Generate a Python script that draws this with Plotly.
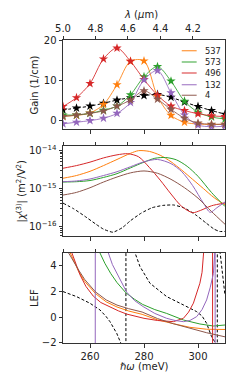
import plotly.graph_objects as go

# ---------------- data ----------------
series_labels = ["537", "573", "496", "132", "4"]
series_colors = ["#ff7f0e", "#2ca02c", "#d62728", "#9467bd", "#8c564b"]

# Gain panel (markers every 5 meV)
gain_energy = [250, 255, 260, 265, 270, 275, 280, 285, 290, 295, 300, 305, 310]
gain_537 = [1.1, 1.3, 1.9, 4.0, 8.9, 14.7, 14.8, 6.0, 1.3, -0.4, -0.85, -0.95, -0.9]
gain_573 = [1.4, 1.4, 1.8, 2.6, 3.6, 6.4, 10.9, 13.4, 9.8, 4.8, 2.1, 0.9, 0.4]
gain_496 = [3.5, 5.7, 9.2, 15.3, 18.0, 14.7, 10.2, 6.3, 3.6, 2.5, 1.7, 1.2, 1.0]
gain_132 = [-0.8, -0.4, 0.0, 0.6, 1.8, 4.5, 10.1, 12.4, 6.9, 1.4, -1.1, -1.5, -1.4]
gain_4 = [1.0, 1.4, 1.8, 2.4, 3.6, 5.1, 7.4, 5.3, 2.8, 0.6, -0.6, -0.9, -0.9]
gain_ref = [2.65, 3.1, 3.6, 4.3, 5.1, 5.7, 6.2, 6.5, 5.8, 4.6, 3.5, 2.5, 1.6]

# |chi(3)| panel (m^2/V^2)
chi_537_e = [250, 255, 260, 265, 270, 275, 278, 282, 286, 290, 294, 298, 302, 306, 310]
chi_537 = [1.86e-15, 2.19e-15, 2.82e-15, 3.98e-15, 5.75e-15, 8.32e-15, 9.77e-15, 9.33e-15,
           7.41e-15, 5.01e-15, 3.02e-15, 1.74e-15, 1.0e-15, 5.75e-16, 3.8e-16]
chi_573_e = [250, 255, 260, 265, 270, 275, 280, 284, 288, 292, 296, 300, 305, 310]
chi_573 = [1.48e-15, 1.51e-15, 1.62e-15, 1.95e-15, 2.45e-15, 3.47e-15, 4.9e-15, 6.17e-15,
           6.46e-15, 5.62e-15, 3.8e-15, 2.09e-15, 7.9e-16, 3.4e-16]
chi_496_e = [250, 255, 260, 265, 270, 274, 278, 282, 286, 290, 294, 298, 301, 305, 310]
chi_496 = [3.39e-15, 3.98e-15, 4.9e-15, 6.31e-15, 7.59e-15, 8.13e-15, 6.76e-15, 3.55e-15,
           1.66e-15, 7.2e-16, 3.4e-16, 2.35e-16, 2.7e-16, 3.55e-16, 4.2e-16]
chi_132_e = [250, 255, 260, 265, 270, 275, 280, 285, 290, 294, 298, 302, 304.5, 307, 310]
chi_132 = [1.51e-15, 1.58e-15, 1.78e-15, 2.19e-15, 2.75e-15, 3.72e-15, 5.01e-15, 5.75e-15,
           4.47e-15, 2.75e-15, 1.2e-15, 4.17e-16, 2.4e-16, 3.16e-16, 4.47e-16]
chi_4_e = [250, 255, 260, 265, 270, 275, 280, 285, 290, 295, 300, 305, 310]
chi_4 = [6.76e-16, 7.94e-16, 1.05e-15, 1.48e-15, 2.0e-15, 2.57e-15, 2.88e-15, 2.51e-15,
         1.74e-15, 1.05e-15, 5.62e-16, 2.51e-16, 1.17e-16]
chi_ref_e = [250, 254, 258, 262, 265, 268.5, 272, 275, 279, 283, 287, 291, 295, 299, 303, 306, 308, 310]
chi_ref = [4.17e-16, 2.95e-16, 1.91e-16, 1.2e-16, 8.7e-17, 7.24e-17, 9.55e-17, 1.45e-16, 2.29e-16,
           3.16e-16, 3.63e-16, 3.72e-16, 3.09e-16, 2.09e-16, 1.26e-16, 8.7e-17, 7.59e-17, 7.59e-17]

# LEF panel
lef_537_e = [250, 252.7, 255.8, 258, 262, 266, 270, 274.3, 279.3, 285, 290.9, 297, 303.2, 310]
lef_537 = [8, 5, 3.56, 2.8, 1.85, 1.2, 0.8, 0.49, 0.23, -0.2, -0.5, -0.78, -0.93, -0.95]
lef_573_e = [250, 258, 262.5, 263.7, 265.5, 267.7, 270, 273.3, 276.5, 279.5, 284, 288.4, 294.6, 300.7, 305.7, 310]
lef_573 = [30, 12, 6, 5, 4.2, 3.4, 2.7, 1.9, 1.4, 1.0, 0.6, 0.3, -0.21, -0.52, -0.68, -0.6]
lef_496_e = [250, 252, 253.3, 256.3, 258.5, 261.2, 264, 267.4, 270.5, 273.6, 277, 280, 285, 290.9,
             294.6, 296.5, 298.3, 299.5, 300.7, 301.5, 302.2, 303.2, 305.35, 305.45, 310]
lef_496 = [12, 7, 5, 3.3, 2.4, 1.65, 1.15, 0.8, 0.5, 0.25, 0.05, -0.08, -0.25, -0.34,
           -0.08, 0.4, 1.1, 1.8, 2.65, 3.5, 4.7, 8, 40, -40, -10]
lef_132_e = [250, 261.9, 262.0, 264, 265.5, 266.8, 268.3, 269.9, 273.6, 276.5, 279.7, 284, 288.4,
             291.5, 294.6, 297, 299.5, 301.5, 303.2, 304.5, 305.7, 306.2, 306.3, 306.4, 310]
lef_132 = [-10, -40, 40, 9, 6.2, 5, 4.1, 3.44, 1.95, 1.3, 0.83, 0.3, -0.08,
           -0.25, -0.34, -0.25, 0.05, 0.6, 1.35, 2.3, 3.4, 5, 40, -40, -10]
lef_4_e = [250, 252.1, 255.8, 258, 262, 266, 270, 274.3, 279.3, 285, 290.9, 297, 303.2, 310]
lef_4 = [8, 5, 3.67, 2.95, 1.98, 1.35, 0.95, 0.67, 0.41, -0.1, -0.5, -0.85, -1.2, -1.52]
lef_ref_e = [250, 255, 260, 263.7, 266, 267.4, 269.9, 271.4, 272.6, 273.25, 273.35, 274.5, 276.7,
             278.5, 282.2, 288.4, 294.6, 299.5, 301.5, 303.2, 305, 306.5, 307.1, 307.2, 308.2, 309.4, 310]
lef_ref = [2.0, 1.61, 1.09, 0.57, 0.05, -0.34, -1.25, -2.0, -4, -40, 40, 9, 5,
           3.95, 2.65, 1.61, 0.96, 0.44, 0.1, -0.47, -1.5, -2.0, -30, 30, 5, 2.65, 1.7]

energy_ticks = [260, 280, 300]
lambda_ticks = [5.0, 4.8, 4.6, 4.4, 4.2]
gain_ticks = [0, 10, 20]
chi_ticks = [1e-16, 1e-15, 1e-14]
chi_ticktext = ["10<sup>−16</sup>", "10<sup>−15</sup>", "10<sup>−14</sup>"]
lef_ticks = [-2, 0, 2, 4]

# ---------------- figure ----------------
FONT = "DejaVu Sans"
AX = "#333333"


def rgba(hexcol, a):
    h = hexcol.lstrip("#")
    return "rgba(%d,%d,%d,%.2f)" % (int(h[0:2], 16), int(h[2:4], 16), int(h[4:6], 16), a)


fig = go.Figure()

gains = [gain_537, gain_573, gain_496, gain_132, gain_4]
chis = [(chi_537_e, chi_537), (chi_573_e, chi_573), (chi_496_e, chi_496), (chi_132_e, chi_132), (chi_4_e, chi_4)]
lefs = [(lef_537_e, lef_537), (lef_573_e, lef_573), (lef_496_e, lef_496), (lef_132_e, lef_132), (lef_4_e, lef_4)]

# reference (black dashed)
fig.add_trace(go.Scatter(x=gain_energy, y=gain_ref, mode="lines+markers", xaxis="x", yaxis="y",
                         line=dict(color="black", width=1, dash="3px,2px", shape="spline", smoothing=0.8),
                         marker=dict(symbol="star", size=7, color="black", line=dict(width=0)),
                         showlegend=False))
for g, c in zip(gains, series_colors):
    fig.add_trace(go.Scatter(x=gain_energy, y=g, mode="lines+markers", xaxis="x", yaxis="y",
                             line=dict(color=rgba(c, 0.85), width=1, shape="spline", smoothing=0.9),
                             marker=dict(symbol="star", size=7, color=c, line=dict(width=0)),
                             showlegend=False))

fig.add_trace(go.Scatter(x=chi_ref_e, y=chi_ref, mode="lines", xaxis="x2", yaxis="y2",
                         line=dict(color="black", width=1, dash="3px,2px", shape="spline", smoothing=0.5),
                         showlegend=False))
for (xe, yv), c in zip(chis, series_colors):
    fig.add_trace(go.Scatter(x=xe, y=yv, mode="lines", xaxis="x2", yaxis="y2",
                             line=dict(color=c, width=1, shape="spline", smoothing=0.8),
                             showlegend=False))

fig.add_trace(go.Scatter(x=lef_ref_e, y=lef_ref, mode="lines", xaxis="x3", yaxis="y3",
                         line=dict(color="black", width=1, dash="3px,2px"),
                         showlegend=False))
for (xe, yv), c in zip(lefs, series_colors):
    fig.add_trace(go.Scatter(x=xe, y=yv, mode="lines", xaxis="x3", yaxis="y3",
                             line=dict(color=c, width=1),
                             showlegend=False))

# dummy traces so the wavelength axes are drawn
for xa, ya in (("x4", "y"), ("x5", "y2"), ("x6", "y3")):
    fig.add_trace(go.Scatter(x=[None], y=[None], xaxis=xa, yaxis=ya, showlegend=False, hoverinfo="skip"))

common_x = dict(range=[250, 310], tickvals=energy_ticks, ticks="outside", ticklen=3.5, tickwidth=1,
                tickcolor=AX, showline=True, linecolor=AX, linewidth=1, mirror=True,
                showgrid=False, zeroline=False, tickfont=dict(family=FONT, size=10, color="#222"))
common_lam = dict(range=[5.0, 4.003], tickvals=lambda_ticks, ticktext=["%.1f" % v for v in lambda_ticks],
                  ticks="outside", ticklen=3.5, tickwidth=1, tickcolor=AX, side="top",
                  showline=True, linecolor=AX, linewidth=1, showgrid=False, zeroline=False,
                  tickfont=dict(family=FONT, size=10, color="#222"))
common_y = dict(ticks="outside", ticklen=3.5, tickwidth=1, tickcolor=AX, showline=True, linecolor=AX,
                linewidth=1, mirror=True, showgrid=False, zeroline=False,
                tickfont=dict(family=FONT, size=10, color="#222"))

# the page body adds an 8 px offset, so the figure is 8 px smaller and margins are shifted
fig.update_layout(
    width=237, height=377,
    margin=dict(l=55, r=20, t=32, b=42),
    paper_bgcolor="white", plot_bgcolor="white",
    showlegend=False,
    font=dict(family=FONT, size=10, color="#222"),
    xaxis=dict(anchor="y", domain=[0, 1], showticklabels=False, **common_x),
    xaxis2=dict(anchor="y2", domain=[0, 1], showticklabels=False, **common_x),
    xaxis3=dict(anchor="y3", domain=[0, 1], showticklabels=True, **common_x),
    xaxis4=dict(overlaying="x", anchor="y", showticklabels=True, **common_lam),
    xaxis5=dict(overlaying="x2", anchor="y2", showticklabels=False, **common_lam),
    xaxis6=dict(overlaying="x3", anchor="y3", showticklabels=False, **common_lam),
    yaxis=dict(domain=[0.706, 1.0], range=[-2.1, 20], tickvals=gain_ticks, **common_y),
    yaxis2=dict(domain=[0.353, 0.650], type="log", range=[-16.24, -13.89], tickvals=chi_ticks,
                ticktext=chi_ticktext,
                minor=dict(ticks="outside", ticklen=2, tickcolor=AX, showgrid=False,
                           tickvals=[m * 10.0 ** e for e in (-17, -16, -15, -14) for m in range(2, 10)]),
                **common_y),
    yaxis3=dict(domain=[0, 0.297], range=[-2, 5], tickvals=lef_ticks, **common_y),
)

# axis titles
ann = [
    dict(text="Gain (1/cm)", x=-0.173, y=(0.706 + 1.0) / 2, textangle=-90),
    dict(text="|<i>χ</i><sup>(3)</sup>| (m<sup>2</sup>/V<sup>2</sup>)", x=-0.262, y=(0.353 + 0.650) / 2, textangle=-90),
    dict(text="LEF", x=-0.179, y=0.297 / 2, textangle=-90),
    dict(text="<i>ℏω</i> (meV)", x=0.5, y=-0.076, textangle=0),
    dict(text="<i>λ</i> (<i>μ</i>m)", x=0.48, y=1.083, textangle=0),
]
for a in ann:
    fig.add_annotation(xref="paper", yref="paper", showarrow=False, xanchor="center", yanchor="middle",
                       font=dict(family=FONT, size=10, color="#222"), **a)

# manual legend
leg_rows = [0.9647, 0.9274, 0.8911, 0.8525, 0.8175]
for lab, c, yy in zip(series_labels, series_colors, leg_rows):
    fig.add_shape(type="line", xref="paper", yref="paper", x0=0.733, x1=0.825, y0=yy, y1=yy,
                  line=dict(color=rgba(c, 0.75), width=1.3))
    fig.add_annotation(xref="paper", yref="paper", x=0.862, y=yy, text=lab, showarrow=False,
                       xanchor="left", yanchor="middle", font=dict(family=FONT, size=8.3, color="#222"))

fig.write_html("out.html")
